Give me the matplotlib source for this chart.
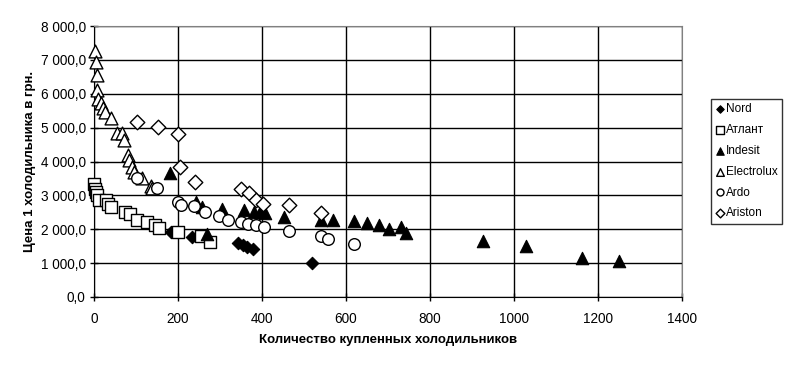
import matplotlib
matplotlib.use("Agg")
import matplotlib.pyplot as plt
from matplotlib.ticker import FuncFormatter, MultipleLocator

plt.rcParams["font.family"] = ["Liberation Sans", "DejaVu Sans"]

# Data
nord_x = [183, 233, 342, 355, 365, 378, 518]
nord_y = [1930, 1760, 1600, 1540, 1480, 1420, 1000]

atlant_x = [0, 2, 4, 6, 12, 28, 34, 40, 74, 86, 103, 125, 145, 155, 199, 255, 276]
atlant_y = [3350, 3200, 3100, 3000, 2850, 2850, 2750, 2650, 2520, 2450, 2280,
            2220, 2130, 2050, 1930, 1800, 1630]

indesit_x = [181, 243, 256, 268, 304, 356, 380, 395, 407, 452, 540, 570, 620,
             651, 679, 703, 731, 743, 927, 1028, 1161, 1251]
indesit_y = [3650, 2800, 2670, 1850, 2590, 2570, 2520, 2520, 2490, 2370, 2270,
             2270, 2250, 2190, 2130, 2010, 2070, 1880, 1660, 1510, 1140, 1060]

electrolux_x = [2, 4, 6, 6, 10, 16, 22, 26, 40, 55, 66, 71, 82, 83, 91, 96,
                115, 136, 137]
electrolux_y = [7250, 6950, 6550, 6100, 5850, 5720, 5570, 5470, 5270, 4850,
                4830, 4640, 4190, 4040, 3850, 3700, 3500, 3280, 3210]

ardo_x = [102, 150, 201, 206, 239, 264, 298, 319, 349, 367, 386, 404, 465, 540,
          558, 619]
ardo_y = [3500, 3230, 2810, 2720, 2690, 2520, 2400, 2270, 2220, 2160, 2120,
          2080, 1960, 1810, 1710, 1570]

ariston_x = [103, 153, 201, 205, 240, 350, 370, 386, 403, 465, 540]
ariston_y = [5180, 5010, 4810, 3840, 3390, 3180, 3070, 2870, 2740, 2720, 2470]

W, H = 796, 367
fig = plt.figure(figsize=(W / 100, H / 100), dpi=100)
ax = fig.add_axes([94 / W, (H - 297) / H, 588 / W, 271 / H])

kw = dict(edgecolors="black", zorder=3, clip_on=False)
ax.scatter(nord_x, nord_y, marker="D", s=40, c="black", linewidths=0.8,
           label="Nord", **kw)
ax.scatter(atlant_x, atlant_y, marker="s", s=80, c="white", linewidths=1.0,
           label="Атлант", **kw)
ax.scatter(indesit_x, indesit_y, marker="^", s=80, c="black", linewidths=0.8,
           label="Indesit", **kw)
ax.scatter(electrolux_x, electrolux_y, marker="^", s=85, c="white",
           linewidths=1.0, label="Electrolux", **kw)
ax.scatter(ardo_x, ardo_y, marker="o", s=70, c="white", linewidths=1.0,
           label="Ardo", **kw)
ax.scatter(ariston_x, ariston_y, marker="D", s=55, c="white", linewidths=1.0,
           label="Ariston", **kw)

ax.set_xlim(0, 1400)
ax.set_ylim(0, 8000)
ax.xaxis.set_major_locator(MultipleLocator(200))
ax.yaxis.set_major_locator(MultipleLocator(1000))


def rus_fmt(v, pos):
    s = f"{v:,.1f}".replace(",", " ").replace(".", ",")
    return s


ax.yaxis.set_major_formatter(FuncFormatter(rus_fmt))
ax.grid(True, color="black", linewidth=1.0, zorder=0)
ax.set_axisbelow(True)

for side in ["top", "right"]:
    ax.spines[side].set_color("#808080")
for side in ["left", "bottom"]:
    ax.spines[side].set_color("black")
ax.tick_params(direction="inout", length=6, width=1, labelsize=9.8,
               colors="black")
ax.tick_params(axis="x", pad=8)
ax.tick_params(axis="y", pad=3)

ax.set_xlabel("Количество купленных холодильников", fontsize=9.5,
              fontweight="bold")
ax.set_ylabel("Цена 1 холодильника в грн.", fontsize=9.5, fontweight="bold")
ax.xaxis.set_label_coords(0.5, (297 - 340) / 271, transform=ax.transAxes)
ax.yaxis.set_label_coords((30 - 94) / 588, 0.5, transform=ax.transAxes)
ax.xaxis.label.set_va("center")
ax.yaxis.label.set_va("center")

leg = fig.legend(loc="upper left", bbox_to_anchor=(711 / W, 1 - 99 / H),
                 fontsize=8.5, frameon=True, fancybox=False, markerscale=0.6,
                 handletextpad=0.15, handlelength=0.8, borderpad=0.35,
                 labelspacing=0.75, borderaxespad=0)
leg.get_frame().set_edgecolor("black")
leg.get_frame().set_linewidth(1.0)

fig.savefig("out.png", dpi=100, facecolor="white")
